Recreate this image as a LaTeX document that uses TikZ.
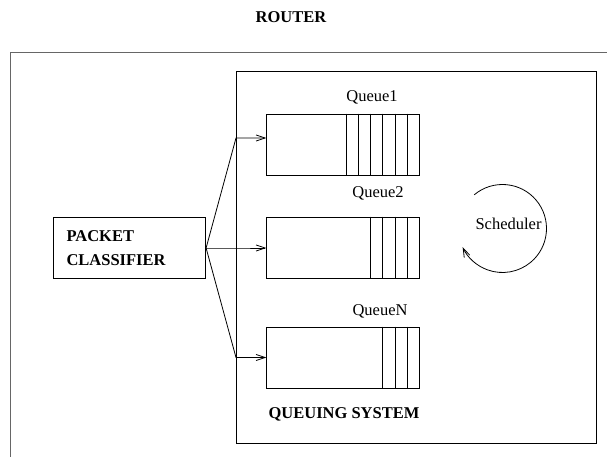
\documentclass[tikz,border=0pt]{standalone}
\usepackage{fontspec}
\setmainfont{Liberation Serif}
\usetikzlibrary{arrows.meta}
\tikzset{
  lbl/.style={font=\fontsize{16.5}{20}\selectfont, inner sep=0pt, anchor=base},
  blbl/.style={lbl, font=\fontsize{16.5}{20}\selectfont\bfseries},
  qbox/.style={draw, line width=0.8pt, minimum width=152.3pt, minimum height=61pt, inner sep=0pt},
  frame/.style={draw, line width=0.8pt},
  conn/.style={line width=0.8pt, -{Straight Barb[length=9pt,width=6pt,line width=0.8pt]}},
  seg/.style={line width=0.8pt},
}
\begin{document}
\begin{tikzpicture}[x=1pt,y=-1pt]
\useasboundingbox (0,0) rectangle (607,457);
% outer router frame (only top and left visible)
\draw[line width=1.2pt, black!60] (607,52.5) -- (10.5,52.5) -- (10.5,457);
\node[blbl] (router) at (291,23) {ROUTER};
% queuing system box
\node[frame, minimum width=360pt, minimum height=372pt, inner sep=0pt] (qs) at (416,257) {};
\node[blbl] (qslbl) at (344,418.5) {QUEUING SYSTEM};
% classifier
\node[draw, line width=0.8pt, minimum width=152.4pt, minimum height=60.6pt, text width=126pt,
      inner xsep=13pt, inner ysep=0pt, align=left,
      font=\fontsize{16.5}{23.5}\selectfont\bfseries] (clf) at (129.5,248) {PACKET\\CLASSIFIER};
% queues
\node[qbox] (q1) at (342.85,144.5) {};
\node[qbox] (q2) at (342.85,247.5) {};
\node[qbox] (qn) at (342.85,357.5) {};
\foreach \i in {1,...,6} \draw[seg] ([xshift=-\i*12.2pt]q1.north east) -- ([xshift=-\i*12.2pt]q1.south east);
\foreach \i in {1,...,4} \draw[seg] ([xshift=-\i*12.2pt]q2.north east) -- ([xshift=-\i*12.2pt]q2.south east);
\foreach \i in {1,...,3} \draw[seg] ([xshift=-\i*12.2pt]qn.north east) -- ([xshift=-\i*12.2pt]qn.south east);
\node[lbl] (q1lbl) at (372,102) {Queue1};
\node[lbl] (q2lbl) at (378,197) {Queue2};
\node[lbl] (qnlbl) at (380,315) {QueueN};
% connectors
\coordinate (j1) at (236,138);
\coordinate (j2) at (236,248);
\coordinate (j3) at (236,357.5);
\draw[conn] (clf.east) -- (j1) -- (q1.west |- j1);
\draw[conn] (clf.east) -- (j2) -- (q2.west |- j2);
\draw[conn] (clf.east) -- (j3) -- (qn.west |- j3);
% scheduler
\node[lbl] (sched) at (508.5,229) {Scheduler};
\coordinate (sc) at (502.5,228.5);
\draw[conn] ([shift={(-130:44)}]sc) arc[start angle=-130, end angle=155, radius=44];
\end{tikzpicture}
\end{document}
